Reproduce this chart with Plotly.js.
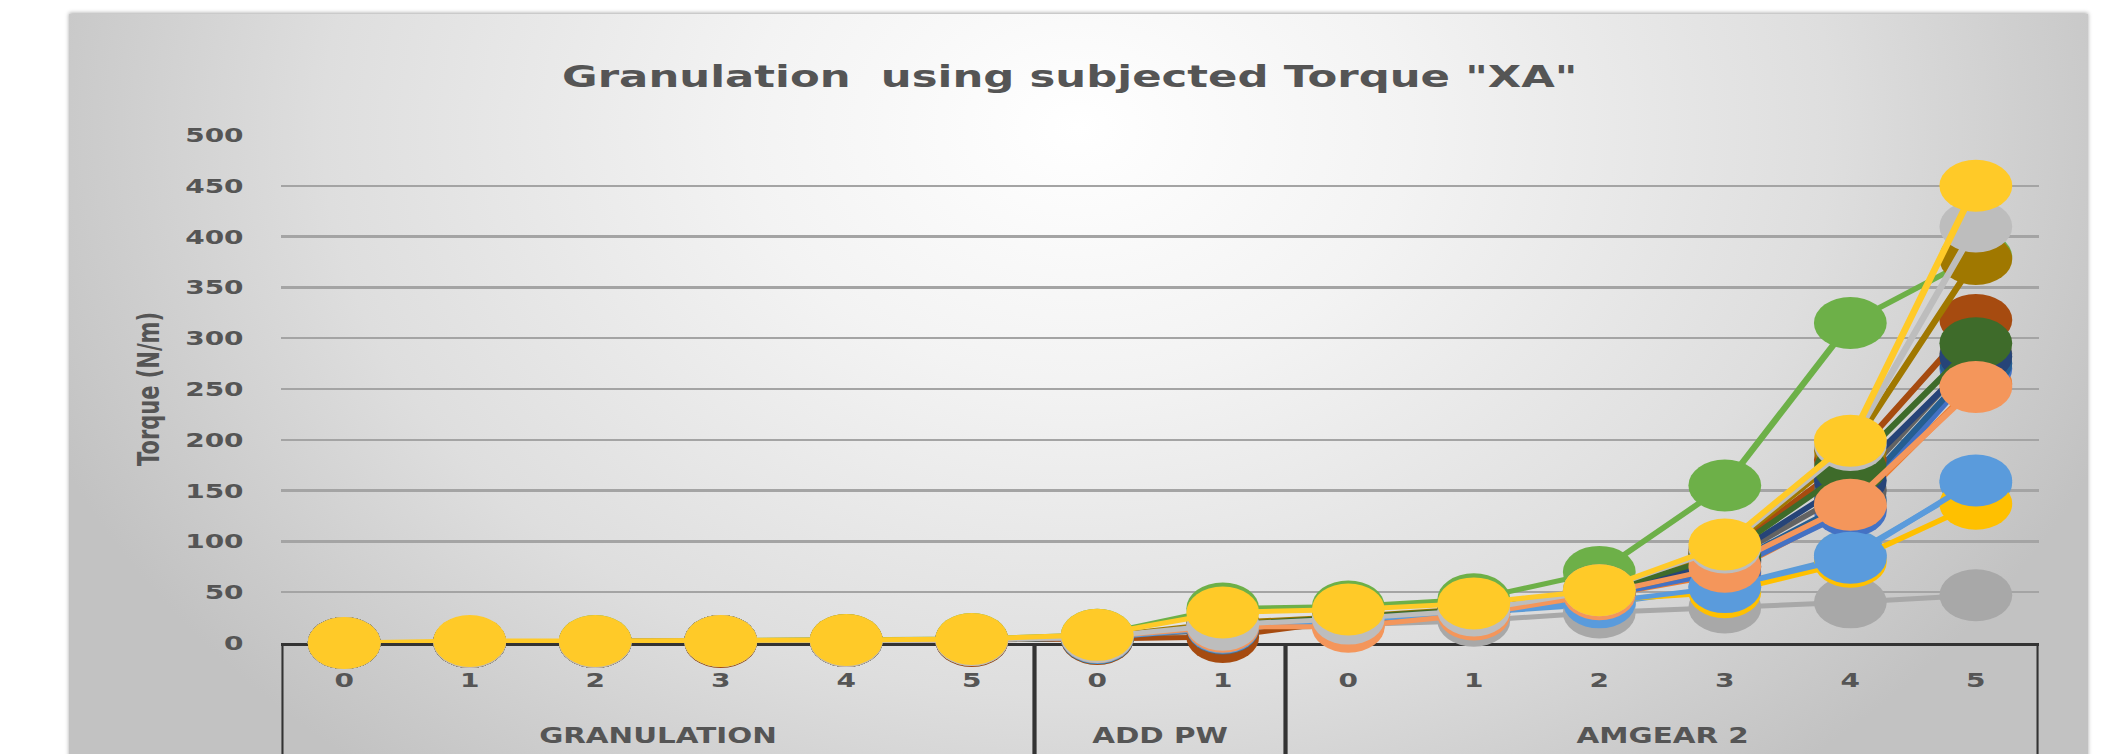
<!DOCTYPE html>
<html>
<head>
<meta charset="utf-8">
<script src="https://cdn.plot.ly/plotly-3.0.1.min.js"></script>
<style>
html,body{margin:0;padding:0;background:#ffffff;width:2110px;height:754px;overflow:hidden;}
#bg{position:absolute;left:69px;top:14px;width:2019px;height:760px;
  background:radial-gradient(ellipse 55% 110% at 50% 15%, #ffffff 0%, #f3f3f3 30%, #dedede 68%, #c2c2c2 100%);
  box-shadow:0 -1px 4px rgba(0,0,0,0.35);}
#wrap{position:absolute;left:0;top:0;width:1507px;height:754px;transform:scaleX(1.40013);transform-origin:0 0;}
#chart{width:1507px;height:754px;}
</style>
</head>
<body>
<div id="bg"></div>
<div id="wrap"><div id="chart"></div></div>
<script>
// ---- data ----
const groupLabels = ['GRANULATION','GRANULATION','GRANULATION','GRANULATION','GRANULATION','GRANULATION',
                     'ADD PW','ADD PW',
                     'AMGEAR 2','AMGEAR 2','AMGEAR 2','AMGEAR 2','AMGEAR 2','AMGEAR 2'];
const stepLabels = ['0','1','2','3','4','5','0','1','0','1','2','3','4','5'];

const s01 = [0,1,1,2,2,3, 5,14, 22,30,38,55,86,158];
const s02 = [0,1,1,2,3,3, 6,14, 18,28,46,68,132,255];
const s03 = [0,1,1,1,2,2, 4,12, 18,22,30,35,40,47];
const s04 = [0,1,1,2,2,3, 6,18, 24,31,42,50,80,137];
const s05 = [0,1,1,2,2,3, 6,16, 24,32,46,70,130,270];
const s06 = [0,1,2,2,3,4, 8,34, 36,43,70,155,315,380];
const s07 = [0,1,1,2,2,3, 5,16, 24,32,48,75,140,275];
const s08 = [0,1,1,1,2,2, 4,6, 22,31,50,88,180,318];
const s09 = [0,1,1,2,2,3, 5,14, 23,31,47,80,150,285];
const s10 = [0,1,1,2,2,3, 6,20, 26,34,52,92,190,378];
const s11 = [0,1,1,2,2,3, 5,16, 24,32,48,82,160,282];
const s12 = [0,1,1,2,2,3, 5,18, 25,33,50,86,172,295];
const s13 = [0,1,1,2,2,3, 5,15, 22,30,40,55,84,160];
const s14 = [0,1,1,2,2,3, 6,16, 16,28,48,75,136,252];
const s15 = [0,1,1,2,2,3, 6,18, 24,32,52,94,195,410];
const s16 = [0,2,2,2,3,4, 8,30, 33,39,52,97,199,450];

const seriesValues = [s01,s02,s03,s04,s05,s06,s07,s08,s09,s10,s11,s12,s13,s14,s15,s16];
const seriesColors = ['#5B9BD5','#ED7D31','#A8A8A8','#FFC000','#4472C4','#6DB048','#255E91','#A64B10',
                      '#636363','#A07800','#264478','#3E6B2A','#5A9BDC','#F4965B','#BDBDBD','#FFCA28'];

const titleText = 'Granulation\u00A0 using subjected Torque "XA"';
const yTitle = 'Torque (N/m)';

// ---- build ----
const idx = stepLabels.map((_, i) => i);
const FONT = 'DejaVu Sans';
const TXT = '#555555';

const traces = seriesValues.map((vals, k) => ({
  type: 'scatter',
  mode: 'lines+markers',
  x: idx,
  y: vals,
  name: 'Series ' + (k + 1),
  cliponaxis: false,
  line: {color: seriesColors[k], width: 5},
  marker: {color: seriesColors[k], size: 52, line: {width: 0}},
  hoverinfo: 'skip'
}));

// group boundaries & centres
const bounds = [-0.5];
const groups = [];
let start = 0;
for (let i = 1; i <= groupLabels.length; i++) {
  if (i === groupLabels.length || groupLabels[i] !== groupLabels[i - 1]) {
    groups.push({label: groupLabels[start], centre: (start + i - 1) / 2});
    bounds.push(i - 0.5);
    start = i;
  }
}

const shapes = bounds.map(b => ({
  type: 'line', xref: 'x', yref: 'paper', x0: b, x1: b, y0: 0, y1: -0.3,
  line: {color: '#333333', width: 3}, layer: 'below'
}));

const annotations = groups.map(g => ({
  xref: 'x', yref: 'paper', x: g.centre, y: -0.183, yanchor: 'middle', xanchor: 'center',
  text: g.label, showarrow: false,
  font: {family: FONT, size: 21, color: TXT, weight: 'bold'}
}));

const layout = {
  width: 1507, height: 754,
  margin: {l: 201, r: 51, t: 135, b: 111},
  paper_bgcolor: 'rgba(0,0,0,0)',
  plot_bgcolor: 'rgba(0,0,0,0)',
  showlegend: false,
  title: {
    text: titleText, xref: 'container', x: 0.507, xanchor: 'center',
    yref: 'container', y: 0.899, yanchor: 'middle',
    font: {family: FONT, size: 31, color: TXT, weight: 'bold'}
  },
  xaxis: {
    type: 'linear', range: [-0.5, stepLabels.length - 0.5],
    tickmode: 'array', tickvals: idx, ticktext: stepLabels,
    showgrid: false, zeroline: false,
    showline: true, linecolor: '#333333', linewidth: 3,
    ticks: '', ticklabelstandoff: 17,
    tickfont: {family: FONT, size: 20, color: TXT, weight: 'bold'},
    layer: 'below traces', fixedrange: true
  },
  yaxis: {
    range: [0, 500], dtick: 50, tick0: 0,
    showgrid: true, gridcolor: '#a4a4a4', gridwidth: 2.5,
    zeroline: false, showline: false,
    ticks: '', ticklabelstandoff: 26,
    tickfont: {family: FONT, size: 20, color: TXT, weight: 'bold'},
    title: {text: yTitle, standoff: 12, font: {family: FONT, size: 21, color: TXT, weight: 'bold'}},
    layer: 'below traces', fixedrange: true
  },
  shapes: shapes,
  annotations: annotations
};

Plotly.newPlot('chart', traces, layout, {staticPlot: true, displayModeBar: false});
</script>
</body>
</html>
